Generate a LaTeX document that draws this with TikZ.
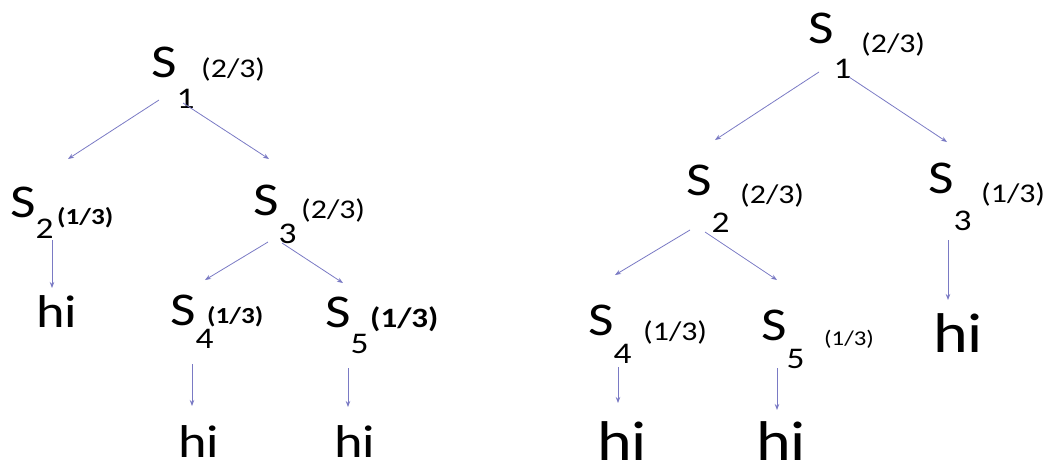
\documentclass[tikz,border=0pt]{standalone}
\usepackage{fontspec}
\setmainfont[FakeStretch=1.18]{Carlito}
\usetikzlibrary{arrows.meta}

\definecolor{edgeblue}{RGB}{122,122,196}
% subscript hanging well below the S
\newcommand{\low}[2][28pt]{\raisebox{-#1}{\fontsize{30}{30}\selectfont #2}}

\begin{document}
\begin{tikzpicture}[
  x=1pt, y=-1pt,
  st/.style={anchor=base west, inner sep=0pt, font=\fontsize{47}{47}\selectfont},
  pr/.style={anchor=base west, inner sep=0pt, font=\fontsize{27}{27}\selectfont},
  prb/.style={pr, font=\fontsize{23}{23}\selectfont\bfseries},
  leaf/.style={anchor=base west, inner sep=0pt, text depth=0pt, font=\fontsize{46}{46}\selectfont},
  leafbig/.style={leaf, font=\fontsize{56}{56}\selectfont},
  arr/.style={draw=edgeblue, line width=0.8pt, -{Stealth[length=6pt,width=4.5pt]}}
]
\useasboundingbox (0,0) rectangle (1050,467);

% left tree
\node[st] (l1) at (151,77) {S\low[31pt]{1}};
\node[pr] (p1) at (201,77) {(2/3)};
\node[st] (l2) at (10,217) {S\low[21pt]{2}};
\node[prb] (p2) at (57,224) {(1/3)};
\node[st] (l3) at (253,215) {S\low[28pt]{3}};
\node[pr] (p3) at (301,218) {(2/3)};
\node[st] (l4) at (170,325) {S\low[23pt]{4}};
\node[prb] (p4) at (207,323) {(1/3)};
\node[st] (l5) at (325,327) {S\low[26pt]{5}};
\node[prb, font=\fontsize{28}{28}\selectfont\bfseries] (p5) at (370,327) {(1/3)};
\node[leaf] (hl2) at (36,327) {hi};
\node[leaf] (hl4) at (178,457) {hi};
\node[leaf] (hl5) at (334,457) {hi};

\draw[arr] ([shift={(8,23)}]l1.base west) -- ([shift={(58,-58)}]l2.base west);
\draw[arr] ([shift={(32,26)}]l1.base west) -- ([shift={(16,-56)}]l3.base west);
\draw[arr] ([shift={(42,23)}]l2.base west) -- ([shift={(16,-39)}]hl2.base west);
\draw[arr] ([shift={(15,27)}]l3.base west) -- ([shift={(35,-45)}]l4.base west);
\draw[arr] ([shift={(29,28)}]l3.base west) -- ([shift={(18,-44)}]l5.base west);
\draw[arr] ([shift={(22,39)}]l4.base west) -- ([shift={(14,-51)}]hl4.base west);
\draw[arr] ([shift={(23,41)}]l5.base west) -- ([shift={(14,-50)}]hl5.base west);

% right tree
\node[st] (r1) at (808,43) {S\low[35pt]{1}};
\node[pr] (q1) at (861,52) {(2/3)};
\node[st] (r2) at (686,195) {S\low[37pt]{2}};
\node[pr] (q2) at (740,203) {(2/3)};
\node[st] (r3) at (928,193) {S\low[37pt]{3}};
\node[pr] (q3) at (981,202) {(1/3)};
\node[st] (r4) at (588,335) {S\low[28pt]{4}};
\node[pr] (q4) at (643,340) {(1/3)};
\node[st] (r5) at (761,340) {S\low[28pt]{5}};
\node[pr, font=\fontsize{21}{21}\selectfont] (q5) at (824,345) {(1/3)};
\node[leafbig] (hr3) at (933,352) {hi};
\node[leafbig] (hr4) at (597,460) {hi};
\node[leafbig] (hr5) at (756,460) {hi};

\draw[arr] ([shift={(11,29)}]r1.base west) -- ([shift={(29,-55)}]r2.base west);
\draw[arr] ([shift={(41,34)}]r1.base west) -- ([shift={(19,-51)}]r3.base west);
\draw[arr] ([shift={(4,35)}]r2.base west) -- ([shift={(27,-60)}]r4.base west);
\draw[arr] ([shift={(19,37)}]r2.base west) -- ([shift={(16,-60)}]r5.base west);
\draw[arr] ([shift={(20,47)}]r3.base west) -- ([shift={(15,-52)}]hr3.base west);
\draw[arr] ([shift={(30,32)}]r4.base west) -- ([shift={(21,-57)}]hr4.base west);
\draw[arr] ([shift={(16,28)}]r5.base west) -- ([shift={(21,-50)}]hr5.base west);
\end{tikzpicture}
\end{document}
